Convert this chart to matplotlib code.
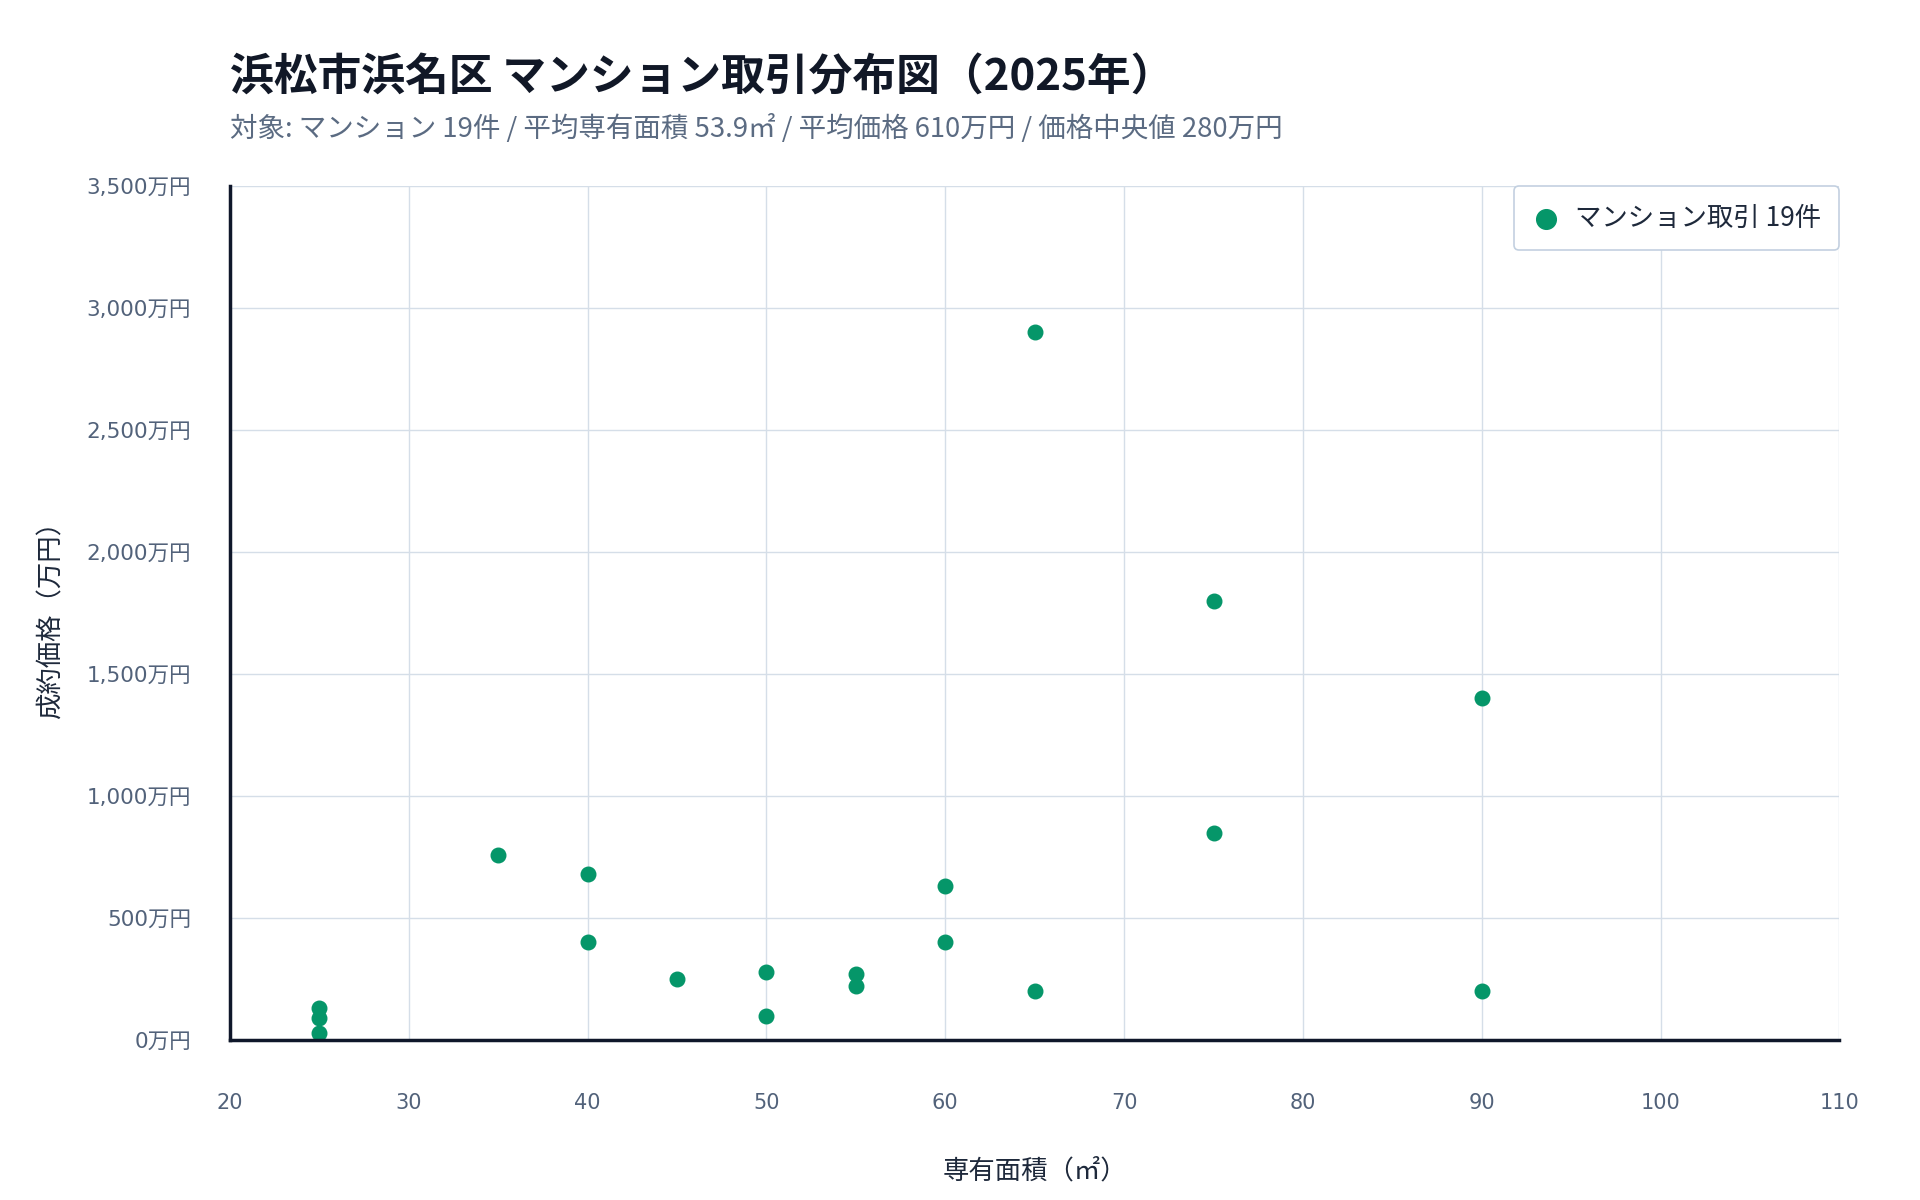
import numpy as np
import matplotlib.pyplot as plt

plt.rcParams['font.family'] = ['Noto Sans CJK JP', 'DejaVu Sans']
tick_fam = ['DejaVu Sans', 'Noto Sans CJK JP']

# 取引データ（専有面積 ㎡ / 成約価格 万円）
area = [25, 25, 25, 35, 40, 40, 45, 50, 50, 55, 55, 60, 60, 65, 65, 75, 75, 90, 90]
price = [130, 90, 30, 760, 680, 400, 250, 280, 100, 270, 220, 630, 400, 2900, 200, 1800, 850, 1400, 200]

title = '浜松市浜名区 マンション取引分布図（2025年）'
x_ticks = list(range(20, 111, 10))
y_ticks = list(range(0, 3501, 500))
y_labels = [f'{v:,}万円' for v in y_ticks]

n = len(price)
mean_area = np.mean(area)
mean_price = np.mean(price)
med_price = np.median(price)
subtitle = (f'対象: マンション {n}件 / 平均専有面積 {mean_area:.1f}㎡ / '
            f'平均価格 {mean_price:,.0f}万円 / 価格中央値 {med_price:,.0f}万円')

fig = plt.figure(figsize=(19.2, 12), dpi=100)
ax = fig.add_axes([0.1198, 0.1333, 0.8382, 0.7117])

ax.scatter(area, price, s=110, color='#059669', zorder=3, label=f'マンション取引 {n}件')

ax.set_xlim(20, 110)
ax.set_ylim(0, 3500)
ax.set_xticks(x_ticks, labels=[str(v) for v in x_ticks], fontfamily=tick_fam, fontsize=15)
ax.set_yticks(y_ticks, labels=y_labels, fontfamily=tick_fam, fontsize=15.5)

ax.grid(True, color='#d5dee8', linewidth=1)
ax.set_axisbelow(True)
for s in ['top', 'right']:
    ax.spines[s].set_visible(False)
for s in ['left', 'bottom']:
    ax.spines[s].set_color('#0f172a')
    ax.spines[s].set_linewidth(2.5)
    ax.spines[s].set_zorder(4)

ax.tick_params(axis='both', length=0, labelcolor='#52627a')
ax.tick_params(axis='x', pad=38)
ax.tick_params(axis='y', pad=28)

ax.set_xlabel('専有面積（㎡）', fontsize=19, color='#1e293b', labelpad=32)
ax.set_ylabel('成約価格（万円）', fontsize=19, color='#1e293b', labelpad=16)

leg = ax.legend(loc='upper right', fontsize=19, frameon=True, fancybox=True,
                markerscale=1.35, handlelength=1.0, handletextpad=0.6,
                borderpad=0.7, borderaxespad=0.0, bbox_to_anchor=(1.0, 1.0))
leg.get_frame().set_edgecolor('#c3d0e0')
leg.get_frame().set_linewidth(1.2)
leg.get_frame().set_alpha(1)
for t in leg.get_texts():
    t.set_color('#1e293b')

fig.text(0.1198, 0.935, title, fontsize=31.5, fontweight='bold', color='#111827',
         ha='left', va='center')
fig.text(0.1198, 0.893, subtitle, fontsize=19.8, color='#5b6b82', ha='left', va='center')

fig.savefig('out.png', dpi=100, facecolor='white')
